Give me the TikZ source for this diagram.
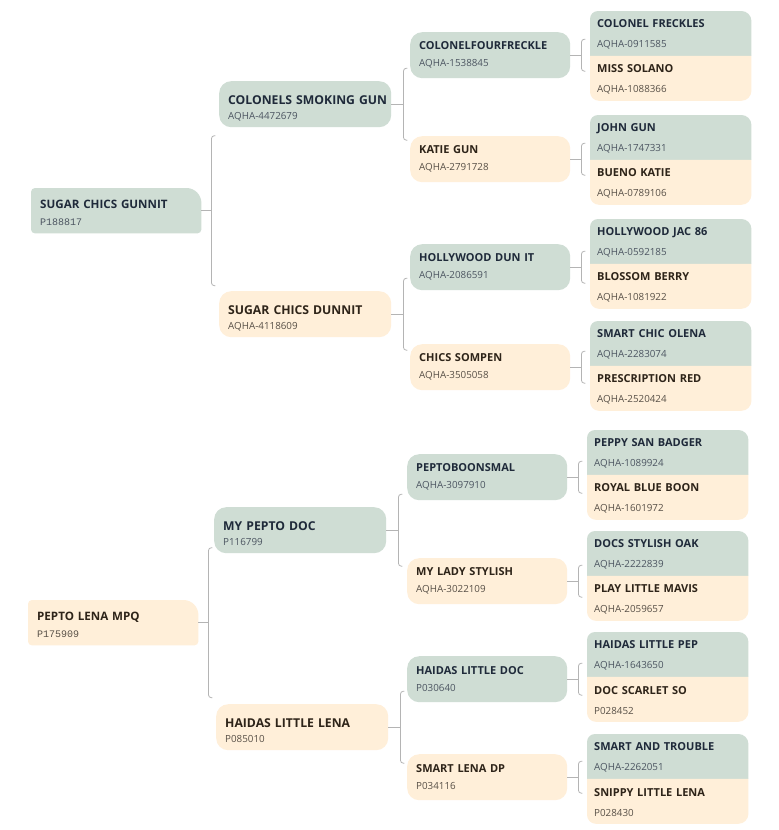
\documentclass[tikz,border=0pt]{standalone}
\usepackage{fontspec}
\setmainfont{Open Sans}
\newfontfamily\monoid{Liberation Mono}
\usetikzlibrary{positioning, calc, backgrounds}

\definecolor{sage}{HTML}{CFDDD4}
\definecolor{cream}{HTML}{FFEFD9}
\definecolor{inkgreen}{HTML}{1F2A3A}
\definecolor{inkcream}{HTML}{2E2419}
\definecolor{linegray}{HTML}{B4B4B4}

\newcommand{\toppad}{0}
\newcommand{\idsans}{\fontsize{9.8}{10}\selectfont\color{.!80!white}}
\newcommand{\idmono}{\monoid\fontsize{10}{10}\selectfont\color{.!80!white}}
\newcommand{\horse}[3][\idsans]{{\bfseries\rule{0pt}{\toppad pt}\mbox{#2}}\\{#1 #3}}
% fill with one radius per corner: nw, ne, se, sw
\newcommand{\cornerfill}[6]{%
  \fill[#2] ($(#1.north west)+(0,#3)$) .. controls ($(#1.north west)+(0,0.448*#3)$) and ($(#1.north west)+(0.448*#3,0)$) .. ($(#1.north west)+(#3,0)$)
    -- ($(#1.north east)+(-#4,0)$) .. controls ($(#1.north east)+(-0.448*#4,0)$) and ($(#1.north east)+(0,0.448*#4)$) .. ($(#1.north east)+(0,#4)$)
    -- ($(#1.south east)+(0,-#5)$) .. controls ($(#1.south east)+(0,-0.448*#5)$) and ($(#1.south east)+(-0.448*#5,0)$) .. ($(#1.south east)+(-#5,0)$)
    -- ($(#1.south west)+(#6,0)$) .. controls ($(#1.south west)+(0.448*#6,0)$) and ($(#1.south west)+(0,-0.448*#6)$) .. ($(#1.south west)+(0,-#6)$) -- cycle;}
% bracket from a horse to its two parents
\newcommand{\pedbrace}[3]{%
  \draw[link] (#1.east) -- ++(#2,0) coordinate (#1-j);
  \draw[link, rounded corners=3pt] ($(#1-j)+(4,-#3)$) -- ($(#1-j)+(0,-#3)$) -- ($(#1-j)+(0,#3)$) -- ($(#1-j)+(4,#3)$);}

\tikzset{
  horse/.style={anchor=north west, align=left, inner xsep=9pt, inner ysep=0pt},
  root/.style={horse, text width=152pt, minimum height=45pt, font=\fontsize{11.6}{17}\selectfont\def\toppad{13.5}},
  gentwo/.style={horse, text width=154pt, minimum height=46pt, rounded corners=12pt, font=\fontsize{12.2}{15}\selectfont\def\toppad{16.5}},
  genthree/.style={horse, text width=142pt, minimum height=46pt, rounded corners=12pt, font=\fontsize{11}{17}\selectfont},
  genfour/.style={horse, inner xsep=7pt, text width=147pt, minimum height=44.5pt, font=\fontsize{11}{20}\selectfont\def\toppad{9.8}},
  sire/.style={fill=sage, text=inkgreen},
  dam/.style={fill=cream, text=inkcream},
  link/.style={draw=linegray, line width=0.8pt},
}

\begin{document}
\begin{tikzpicture}[x=1pt, y=-1pt]
    \useasboundingbox (0,0) rectangle (779,830);

    % roots
    \node[root, text=inkgreen] (s) at (31,188) {\horse[\idmono]{SUGAR CHICS GUNNIT}{P188817}};
    \node[root, text=inkcream] (d) at (28,600) {\horse[\idmono]{PEPTO LENA MPQ}{P175909}};

    % parents
    \node[gentwo, sire] (ss) at (219,81) {\horse{COLONELS SMOKING GUN}{AQHA-4472679}};
    \node[gentwo, dam] (sd) at (219,291) {\horse{SUGAR CHICS DUNNIT}{AQHA-4118609}};
    \node[gentwo, sire] (ds) at (214,507) {\horse{MY PEPTO DOC}{P116799}};
    \node[gentwo, dam] (dd) at (216,704) {\horse{HAIDAS LITTLE LENA}{P085010}};

    % grandparents
    \node[genthree, sire] (sss) at (410,32) {\horse{COLONELFOURFRECKLE}{AQHA-1538845}};
    \node[genthree, dam] (ssd) at (410,136) {\horse{KATIE GUN}{AQHA-2791728}};
    \node[genthree, sire] (sds) at (410,244) {\horse{HOLLYWOOD DUN IT}{AQHA-2086591}};
    \node[genthree, dam] (sdd) at (410,344) {\horse{CHICS SOMPEN}{AQHA-3505058}};
    \node[genthree, sire] (dss) at (407,454) {\horse{PEPTOBOONSMAL}{AQHA-3097910}};
    \node[genthree, dam] (dsd) at (407,558) {\horse{MY LADY STYLISH}{AQHA-3022109}};
    \node[genthree, sire] (dds) at (407,656) {\horse{HAIDAS LITTLE DOC}{P030640}};
    \node[genthree, dam] (ddd) at (407,754) {\horse{SMART LENA DP}{P034116}};

    % great-grandparents
    \node[genfour, text=inkgreen] (ssss) at (590,11) {\horse{COLONEL FRECKLES}{AQHA-0911585}};
    \node[genfour, text=inkcream, below=0pt of ssss] (sssd) {\horse{MISS SOLANO}{AQHA-1088366}};
    \node[genfour, text=inkgreen] (ssds) at (590,115) {\horse{JOHN GUN}{AQHA-1747331}};
    \node[genfour, text=inkcream, below=0pt of ssds] (ssdd) {\horse{BUENO KATIE}{AQHA-0789106}};
    \node[genfour, text=inkgreen] (sdss) at (590,219) {\horse{HOLLYWOOD JAC 86}{AQHA-0592185}};
    \node[genfour, text=inkcream, below=0pt of sdss] (sdsd) {\horse{BLOSSOM BERRY}{AQHA-1081922}};
    \node[genfour, text=inkgreen] (sdds) at (590,321) {\horse{SMART CHIC OLENA}{AQHA-2283074}};
    \node[genfour, text=inkcream, below=0pt of sdds] (sddd) {\horse{PRESCRIPTION RED}{AQHA-2520424}};
    \node[genfour, text=inkgreen] (dsss) at (587,430) {\horse{PEPPY SAN BADGER}{AQHA-1089924}};
    \node[genfour, text=inkcream, below=0pt of dsss] (dssd) {\horse{ROYAL BLUE BOON}{AQHA-1601972}};
    \node[genfour, text=inkgreen] (dsds) at (587,531) {\horse{DOCS STYLISH OAK}{AQHA-2222839}};
    \node[genfour, text=inkcream, below=0pt of dsds] (dsdd) {\horse{PLAY LITTLE MAVIS}{AQHA-2059657}};
    \node[genfour, text=inkgreen] (ddss) at (587,632) {\horse{HAIDAS LITTLE PEP}{AQHA-1643650}};
    \node[genfour, text=inkcream, below=0pt of ddss] (ddsd) {\horse{DOC SCARLET SO}{P028452}};
    \node[genfour, text=inkgreen] (ddds) at (587,734) {\horse{SMART AND TROUBLE}{AQHA-2262051}};
    \node[genfour, text=inkcream, below=0pt of ddds] (dddd) {\horse{SNIPPY LITTLE LENA}{P028430}};

    \begin{pgfonlayer}{background}
        \fill[white] (0,0) rectangle (779,830);
        \cornerfill{s}{sage}{4}{15}{4}{4}
        \cornerfill{d}{cream}{4}{15}{4}{4}
        \foreach \n in {ssss, ssds, sdss, sdds, dsss, dsds, ddss, ddds}
            \cornerfill{\n}{sage}{8}{10}{0}{0};
        \foreach \n in {sssd, ssdd, sdsd, sddd, dssd, dsdd, ddsd, dddd}
            \cornerfill{\n}{cream}{0}{0}{10}{9};
    \end{pgfonlayer}

    % brackets
    \pedbrace{s}{10}{75}
    \pedbrace{d}{10}{75}
    \pedbrace{ss}{12}{36}
    \pedbrace{sd}{12}{36}
    \pedbrace{ds}{12}{36}
    \pedbrace{dd}{12}{36}
    \foreach \n in {sss, ssd, sds, sdd, dss, dsd, dds, ddd}
        \pedbrace{\n}{11}{16};
\end{tikzpicture}
\end{document}
